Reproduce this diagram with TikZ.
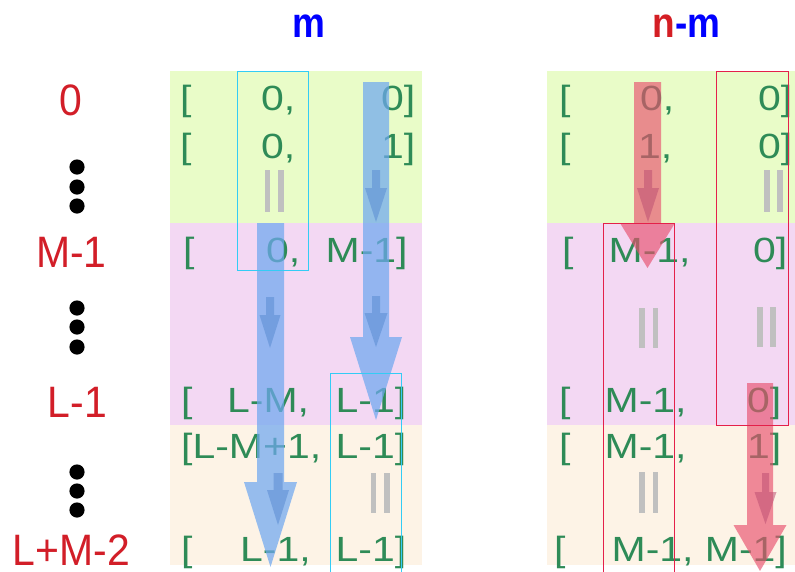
\documentclass[tikz,border=0pt]{standalone}
\usepackage{fontspec}
\newfontfamily\tabfont[FakeStretch=1.17]{Liberation Sans}
\newfontfamily\labfont[FakeStretch=0.93]{Liberation Sans}
\newfontfamily\headfont[FakeStretch=0.88]{Liberation Sans}
\definecolor{bggreen}{RGB}{233,252,200}
\definecolor{bgpink}{RGB}{243,216,243}
\definecolor{bgorange}{RGB}{253,243,230}
\definecolor{txtgreen}{RGB}{46,139,87}
\definecolor{labred}{RGB}{210,30,40}
\definecolor{hblue}{RGB}{0,0,255}
\definecolor{hred}{RGB}{212,30,36}
\definecolor{barg}{RGB}{192,192,192}
\definecolor{arrblue}{RGB}{111,168,240}
\definecolor{arrbluedk}{RGB}{90,140,210}
\definecolor{arrred}{RGB}{232,80,110}
\definecolor{arrreddk}{RGB}{190,80,115}
\definecolor{boxcyan}{RGB}{51,204,245}
\definecolor{boxred}{RGB}{228,32,74}
\tikzset{
  tabtxt/.style={inner sep=0pt, text=txtgreen, font=\tabfont\fontsize{35}{35}\selectfont, anchor=base west},
  labtxt/.style={inner sep=0pt, text depth=0pt, text=labred, font=\labfont\fontsize{44}{44}\selectfont, anchor=base},
  headtxt/.style={inner sep=0pt, font=\headfont\bfseries\fontsize{42}{42}\selectfont, anchor=base},
  bar/.style={fill=barg, draw=none},
  dotc/.style={fill=black, draw=none},
  bigblue/.style={fill=arrblue, fill opacity=0.72, draw=none},
  smallblue/.style={fill=arrbluedk, fill opacity=0.55, draw=none},
  bigred/.style={fill=arrred, fill opacity=0.65, draw=none},
  smallred/.style={fill=arrreddk, fill opacity=0.55, draw=none},
  cyanbox/.style={draw=boxcyan, line width=0.9pt},
  redbox/.style={draw=boxred, line width=0.9pt}
}
% #1 style, #2 centre x, #3 shaft half width, #4 top y, #5 head start y, #6 head half width, #7 tip y
\newcommand\fatarr[7]{%
  \fill[#1] (#2-#3,#4) -- (#2+#3,#4) -- (#2+#3,#5) -- (#2+#6,#5) -- (#2,#7) -- (#2-#6,#5) -- (#2-#3,#5) -- cycle;}
\newcommand\twobars[4]{% x1 x2 ytop ybot
  \fill[bar] (#1-2.8,#3) rectangle (#1+2.8,#4);
  \fill[bar] (#2-2.8,#3) rectangle (#2+2.8,#4);}
\begin{document}
\begin{tikzpicture}[x=1pt,y=-1pt]
\useasboundingbox (0,0) rectangle (795,571);
% backgrounds
\fill[bggreen] (170,71) rectangle (422,223);
\fill[bgpink] (170,223) rectangle (422,425);
\fill[bgorange] (170,425) rectangle (422,565);
\fill[bggreen] (547,71) rectangle (795,223);
\fill[bgpink] (547,223) rectangle (795,425);
\fill[bgorange] (547,425) rectangle (795,565);
% headers
\node[headtxt, text=hblue] (hm) at (308.5,37) {m};
\node[headtxt] (hnm) at (686.5,37) {\textcolor{hred}{n}\textcolor{hblue}{-m}};
% left labels
\node[labtxt] (l0) at (71,115) {0};
\node[labtxt] (l1) at (71.5,267) {M-1};
\node[labtxt] (l2) at (77.5,417) {L-1};
\node[labtxt] (l3) at (71.5,565) {L+M-2};
\foreach \y [count=\i] in {167,187,206,308,327,347,472,491,510}
  \fill[dotc] (77,\y) circle (7.6) coordinate (dot\i);
% left panel text
\node[tabtxt] (a1a) at (180,110) {[};
\node[tabtxt] (a1b) at (261,110) {0,};
\node[tabtxt] (a1c) at (381,110) {0]};
\node[tabtxt] (a2a) at (180,158) {[};
\node[tabtxt] (a2b) at (261,158) {0,};
\node[tabtxt] (a2c) at (381,158) {1]};
\node[tabtxt] (a4a) at (183,262) {[};
\node[tabtxt] (a4b) at (266,262) {0,};
\node[tabtxt] (a4c) at (325.5,262) {M-1]};
\node[tabtxt] (a5a) at (181,412) {[};
\node[tabtxt] (a5b) at (227,412) {L-M,};
\node[tabtxt] (a5c) at (335.5,412) {L-1]};
\node[tabtxt] (a6a) at (181,458) {[L-M+1,};
\node[tabtxt] (a6c) at (335.5,458) {L-1]};
\node[tabtxt] (a8a) at (181,561) {[};
\node[tabtxt] (a8b) at (240,561) {L-1,};
\node[tabtxt] (a8c) at (335.5,561) {L-1]};
\twobars{267.5}{281}{170}{212}
\twobars{373.5}{387}{473}{513}
% right panel text
\node[tabtxt] (b1a) at (559,110) {[};
\node[tabtxt] (b1b) at (640,110) {0,};
\node[tabtxt] (b1c) at (758,110) {0]};
\node[tabtxt] (b2a) at (559,158) {[};
\node[tabtxt] (b2b) at (638,158) {1,};
\node[tabtxt] (b2c) at (758,158) {0]};
\node[tabtxt] (b4a) at (562,262) {[};
\node[tabtxt] (b4b) at (608.5,262) {M-1,};
\node[tabtxt] (b4c) at (753,262) {0]};
\node[tabtxt] (b6a) at (559,412) {[};
\node[tabtxt] (b6b) at (604.5,412) {M-1,};
\node[tabtxt] (b6c) at (747,412) {0]};
\node[tabtxt] (b7a) at (559,458) {[};
\node[tabtxt] (b7b) at (604.5,458) {M-1,};
\node[tabtxt] (b7c) at (747,458) {1]};
\node[tabtxt] (b9a) at (554,561) {[};
\node[tabtxt] (b9b) at (611.5,561) {M-1, M-1]};
\twobars{767}{780}{170}{212}
\twobars{642}{655.5}{308}{348}
\twobars{760}{773}{307}{347}
\twobars{642}{655.5}{472}{513}
% blue arrows
\fatarr{bigblue}{376}{13}{82}{337}{26}{420}
\fatarr{bigblue}{270.5}{13.5}{223}{482}{26.5}{567}
\fatarr{smallblue}{376}{4}{170}{188}{11}{222}
\fatarr{smallblue}{376}{4}{296}{313}{11.5}{347}
\fatarr{smallblue}{270}{4}{297}{315}{10.5}{348}
\fatarr{smallblue}{278}{4.5}{473}{490}{11}{525}
% red arrows
\fatarr{bigred}{647.5}{13.5}{82}{223}{27.5}{268}
\fatarr{bigred}{760}{13}{383}{525}{26.5}{571}
\fatarr{smallred}{648}{4}{170}{188}{11}{222}
\fatarr{smallred}{765.5}{3.5}{473}{492}{11}{524}
% outline boxes
\draw[cyanbox] (237,71) rectangle (308,270);
\draw[cyanbox] (330,580) -- (330,373) -- (401,373) -- (401,580);
\draw[redbox] (716,71) rectangle (788,425);
\draw[redbox] (603,580) -- (603,223) -- (674,223) -- (674,580);
\end{tikzpicture}
\end{document}
